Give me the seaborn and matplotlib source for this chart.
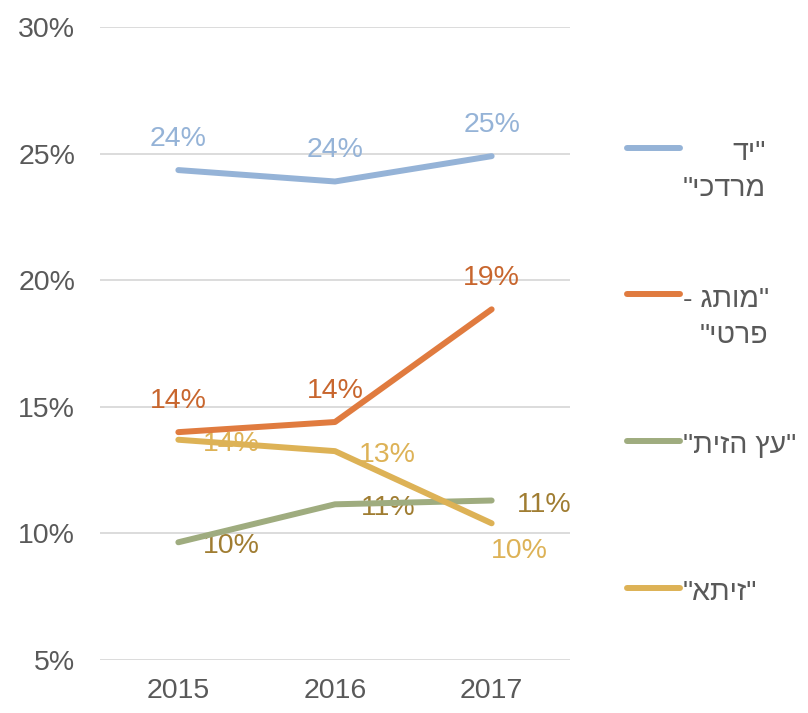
import matplotlib
matplotlib.use("Agg")
import matplotlib.pyplot as plt
from matplotlib.ticker import FuncFormatter
import numpy as np
import pandas as pd
import seaborn as sns

# data (market share %)
years = ["2015", "2016", "2017"]
yad_mordechai = [24.35, 23.9, 24.9]
private_brand = [14.0, 14.4, 18.85]
etz_hazait = [9.65, 11.15, 11.3]
zeita = [13.7, 13.25, 10.4]

brands = ['"יד מרדכי"', '"מותג - פרטי"', '"עץ הזית"', '"זיתא"']
# legend text wrapped as in the original (logical order, one item per line)
legend_lines = [['"יד', 'מרדכי"'], ['"מותג -', 'פרטי"'], ['"עץ הזית"'], ['"זיתא"']]
line_colors = ["#95b3d7", "#e07b3f", "#9fac7f", "#ddb256"]
label_colors = ["#95b3d7", "#c8662e", "#a07d32", "#ddb256"]

sns.set_style("white")
plt.rcParams["font.family"] = ["Liberation Sans", "DejaVu Sans"]
FS = 20.5
GREY = "#595959"

series = [yad_mordechai, private_brand, etz_hazait, zeita]
df = pd.DataFrame({
    "year": years * len(brands),
    "share": sum(series, []),
    "brand": [b for b in brands for _ in years],
})

fig = plt.figure(figsize=(8.08, 7.13), dpi=100)
ax = fig.add_axes([0.1238, 0.0743, 0.5816, 0.8878])

sns.lineplot(data=df, x="year", y="share", hue="brand", hue_order=brands,
             palette=dict(zip(brands, line_colors)), linewidth=4.3,
             errorbar=None, sort=False, legend=False, ax=ax,
             solid_capstyle="round")

# data labels: offsets in points (dx, dy) relative to the point
placement = {
    0: [(0, 17.5)] * 3,
    1: [(0, 17.5)] * 3,
    2: [(38, -8), (38, -8), (38, -8)],
    3: [(38, -8), (38, -8), (20, -25)],
}
for k, vals in enumerate(series):
    for i, v in enumerate(vals):
        ax.annotate(f"{v:.0f}%", (i, v), xytext=placement[k][i],
                    textcoords="offset points", ha="center", va="baseline",
                    fontsize=FS, color=label_colors[k], zorder=1.5)

ax.set_xlim(-0.5, 2.5)
ax.set_ylim(5, 30)
ax.set_yticks(range(5, 31, 5))
ax.yaxis.set_major_formatter(FuncFormatter(lambda v, p: f"{v:.0f}%"))
ax.set_xlabel("")
ax.set_ylabel("")
ax.grid(axis="y", color="#d9d9d9", linewidth=1.3)
ax.set_axisbelow(True)
for s in ax.spines.values():
    s.set_visible(False)
ax.tick_params(axis="x", length=0, pad=13, labelsize=FS, labelcolor=GREY)
ax.tick_params(axis="y", length=0, pad=18, labelsize=FS, labelcolor=GREY)


def visual(s):
    # matplotlib has no bidi support: lay the Hebrew out right-to-left by hand
    return s[::-1]


labels = []
for lines in legend_lines:
    txt = "\n".join(visual(l) for l in lines)
    if len(lines) == 1:
        txt += "\n"
    labels.append(txt)

leg = ax.legend(ax.get_lines()[:4], labels, loc="upper left",
                bbox_to_anchor=(627 / 808, 1 - 140 / 713),
                bbox_transform=fig.transFigure, frameon=False,
                handlelength=1.85, handletextpad=0.1, labelspacing=2.96,
                borderpad=0, borderaxespad=0, fontsize=FS, labelcolor=GREY)
for t in leg.get_texts():
    t.set_multialignment("right")
    t.set_linespacing(1.52)
# put the legend line level with the first text line
for ln in leg.get_lines():
    ln.set_ydata(np.asarray(ln.get_ydata()) + 0.83 * FS)
    ln.set_solid_capstyle("round")

fig.savefig("out.png", dpi=100)
